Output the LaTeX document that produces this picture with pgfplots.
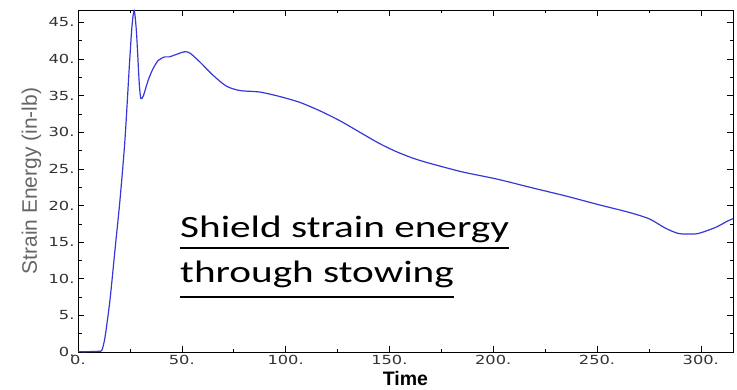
\documentclass[border=0pt]{standalone}
\usepackage{pgfplots}
\pgfplotsset{compat=1.18}
\usepackage{fontspec}
\setmainfont{Liberation Sans}
\newfontfamily\tickfont[FakeStretch=1.3]{DejaVu Sans}
\newfontfamily\annfont[FakeStretch=1.33]{Carlito}
\definecolor{curve}{RGB}{55,55,215}
\begin{document}
\begin{tikzpicture}
\path[use as bounding box] (-78bp,-38bp) rectangle (659bp,352bp);
\begin{axis}[
  at={(0,0)}, anchor=south west,
  scale only axis, width=655bp, height=342bp,
  xmin=0, xmax=315.5, ymin=0, ymax=46.7,
  xtick={0,50,100,150,200,250,300},
  xticklabels={0.,50.,100.,150.,200.,250.,300.},
  ytick={0,5,10,15,20,25,30,35,40,45},
  yticklabels={0.,5.,10.,15.,20.,25.,30.,35.,40.,45.},
  minor x tick num=1, minor y tick num=1,
  tick align=inside, tick pos=both,
  major tick length=6bp, minor tick length=3.5bp,
  every tick/.style={black, line width=0.6bp},
  axis line style={line width=0.8bp},
  ticklabel style={font=\tickfont\fontsize{12.5bp}{14bp}\selectfont, text=black!80},
  xlabel={Time}, ylabel={Strain Energy (in-lb)},
  xlabel style={at={(axis description cs:0.5,-0.0994)}, anchor=base, font=\bfseries\fontsize{19.5bp}{22bp}\selectfont},
  ylabel style={at={(axis description cs:-0.0626,0.5)}, anchor=base, font=\fontsize{21bp}{24bp}\selectfont, text=black!60},
  clip=true,
]
\addplot[curve, line width=1.2bp, smooth, tension=0.45] coordinates {
(0,0.05) (5,0.05) (10,0.1) (11.5,0.25) (13,2.0) (15.4,7.1) (17.8,13.9)
(20.2,20.7) (22.6,28.9) (24.7,38.9) (26.0,44.5) (27.1,46.6) (28.2,43.5)
(29.5,36.7) (30.3,34.6) (31.5,35.0) (33.8,37.1) (36,38.6) (38.6,39.8)
(41.8,40.3) (44,40.3) (47,40.6) (51.4,41.0) (54,40.8) (58.7,39.6)
(65,37.8) (71.5,36.3) (78,35.7) (87.5,35.5) (97,34.9) (106.7,34.1)
(116,33.0) (126,31.6) (137,29.8) (145,28.5) (153,27.4) (161,26.5) (169,25.8)
(185,24.6) (202,23.6) (219,22.4) (235,21.3) (251,20.1) (265,19.1)
(275,18.2) (283,16.9) (289,16.2) (294,16.1) (299,16.2) (307,17.0)
(313,17.9) (315.5,18.2)
};
\end{axis}
\node[anchor=base west, inner sep=0, font=\annfont\fontsize{31bp}{36bp}\selectfont] (n1) at (102bp,114bp) {Shield strain energy};
\node[anchor=base west, inner sep=0, font=\annfont\fontsize{31bp}{36bp}\selectfont] (n2) at (102bp,69bp) {through stowing};
\draw[line width=2bp] ([yshift=-10bp]n1.base west) -- ([yshift=-10bp]n1.base east);
\draw[line width=2bp] ([yshift=-14bp]n2.base west) -- ([yshift=-14bp]n2.base east);
\end{tikzpicture}
\end{document}
